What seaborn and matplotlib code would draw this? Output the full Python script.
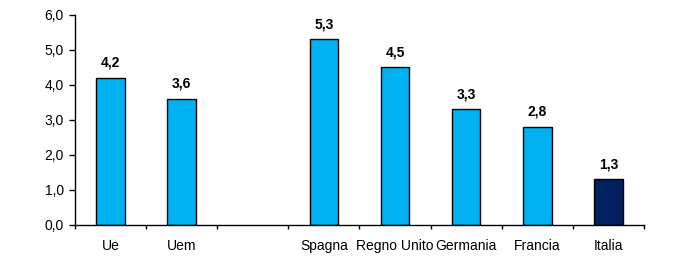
import numpy as np
import pandas as pd
import matplotlib
matplotlib.use("Agg")
import matplotlib.pyplot as plt
import seaborn as sns

categories = ["Ue", "Uem", "", "Spagna", "Regno Unito", "Germania", "Francia", "Italia"]
values = [4.2, 3.6, np.nan, 5.3, 4.5, 3.3, 2.8, 1.3]
bar_colors = ["#00B0F0", "#00B0F0", "#00B0F0", "#00B0F0", "#00B0F0", "#00B0F0", "#00B0F0", "#002060"]
y_ticks = [0, 1, 2, 3, 4, 5, 6]

sns.set_style("white")
plt.rcParams["font.family"] = ["Liberation Sans", "DejaVu Sans"]
plt.rcParams["text.color"] = "black"
plt.rcParams["xtick.color"] = "black"
plt.rcParams["ytick.color"] = "black"

df = pd.DataFrame({"cat": categories, "val": values})

fig = plt.figure(figsize=(7, 2.57), dpi=100)
ax = fig.add_axes([0.107, 0.125, 0.813, 0.817])

sns.barplot(data=df, x="cat", y="val", hue="cat", order=categories,
            palette=dict(zip(categories, bar_colors)), legend=False, saturation=1,
            width=0.4, edgecolor="black", linewidth=1, ax=ax)

ax.set_xlim(-0.5, len(categories) - 0.5)
ax.set_ylim(0, 6)
ax.set_yticks(y_ticks)
ax.set_yticklabels([f"{v:.1f}".replace(".", ",") for v in y_ticks], fontsize=10)
ax.set_xlabel("")
ax.set_ylabel("")

# x ticks: labels at centers, marks at boundaries
ax.tick_params(axis="x", which="major", length=0, pad=10, labelsize=10, labelcolor="black")
ax.set_xticks(np.arange(-0.5, len(categories) + 0.5, 1), minor=True)
ax.tick_params(axis="x", which="minor", length=3, width=1, color="black", direction="out", bottom=True)
ax.tick_params(axis="y", length=4, width=1, color="black", direction="out", left=True,
               labelsize=10, labelcolor="black", pad=4)

for s in ["top", "right"]:
    ax.spines[s].set_visible(False)
for s in ["left", "bottom"]:
    ax.spines[s].set_color("black")
    ax.spines[s].set_linewidth(1)

for container in ax.containers:
    for bar in container:
        h = bar.get_height()
        if np.isnan(h) or h == 0:
            continue
        ax.annotate(f"{h:.1f}".replace(".", ","), (bar.get_x() + bar.get_width() / 2, h),
                    xytext=(0, 6), textcoords="offset points", ha="center", va="bottom",
                    fontsize=10, fontweight="bold", color="black")

fig.savefig("out.png", dpi=100)
